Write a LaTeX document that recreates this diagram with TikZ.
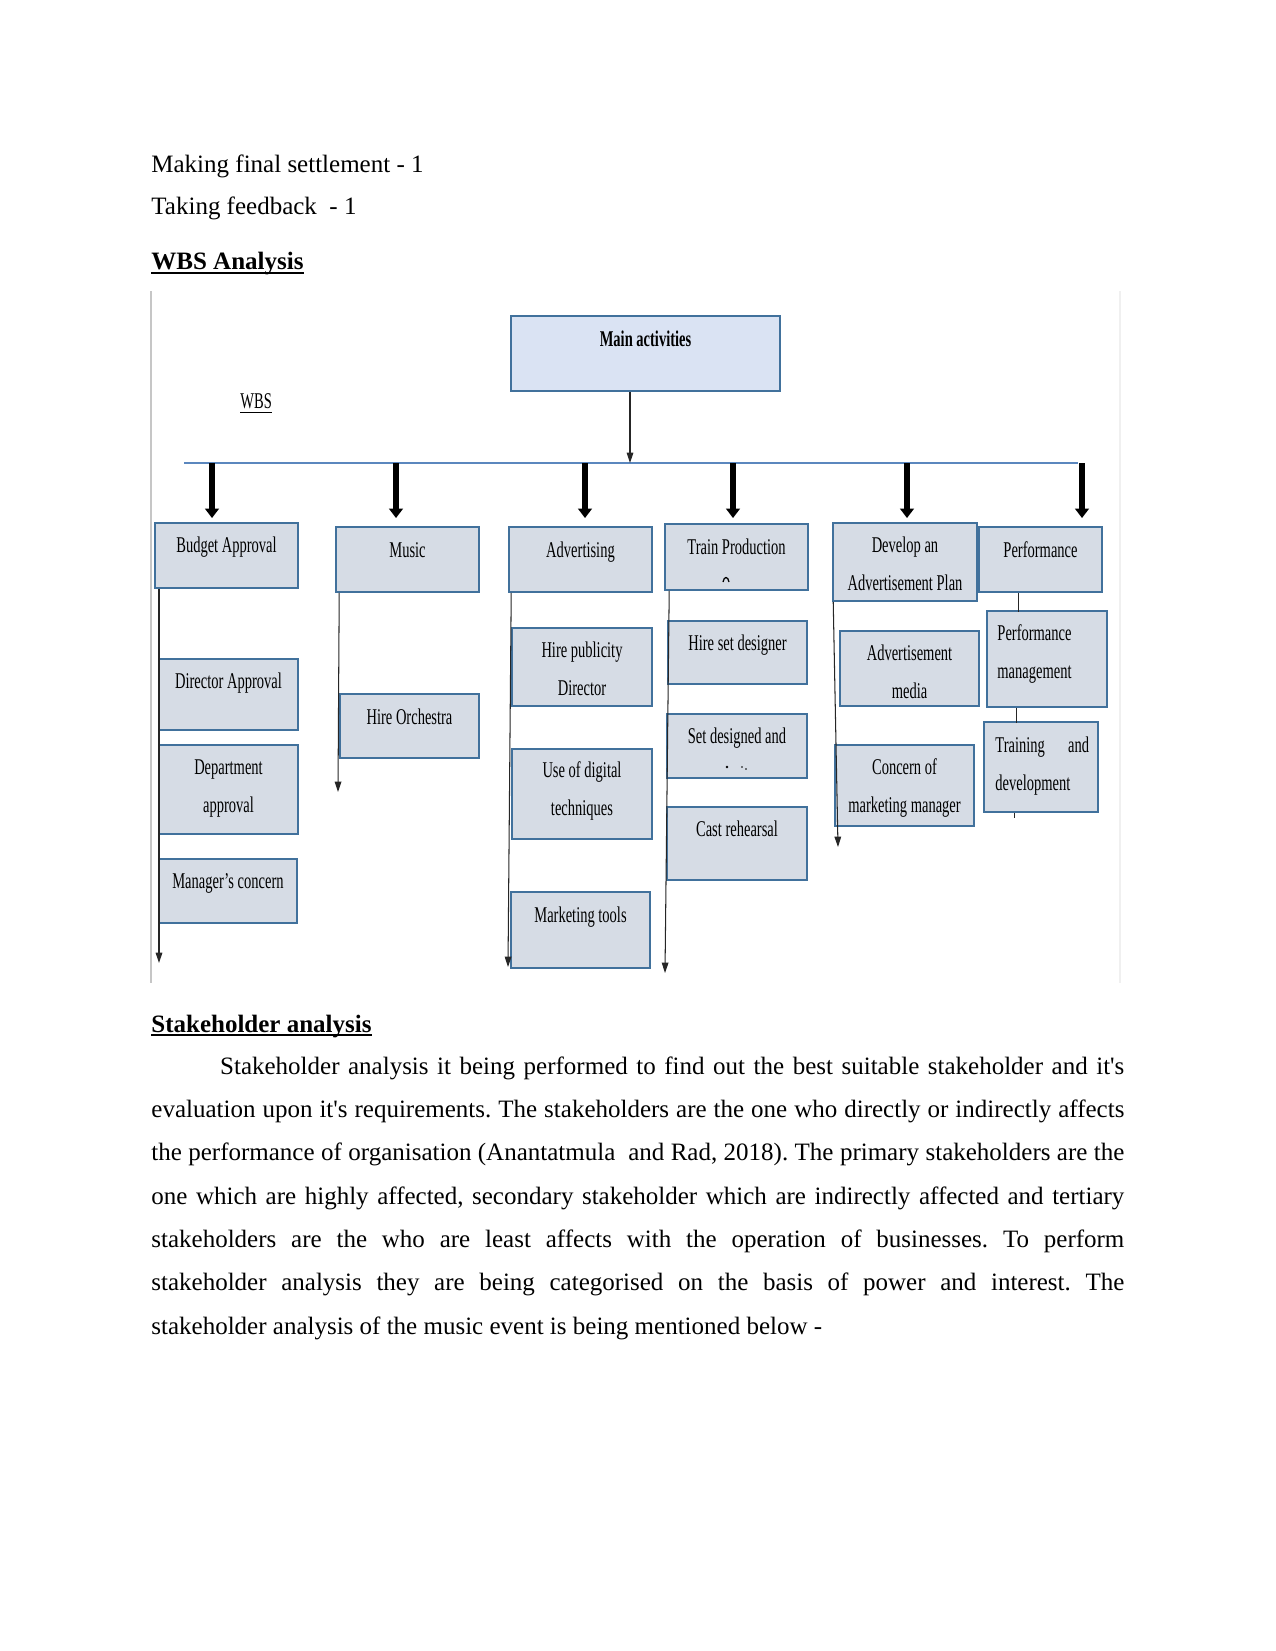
\documentclass[tikz,border=0pt]{standalone}
\usepackage{fontspec}
\setmainfont{Liberation Serif}
\usepackage{graphicx}
\usetikzlibrary{arrows.meta,positioning,fit}

\definecolor{boxfill}{HTML}{D6DCE5}
\definecolor{mainfill}{HTML}{DAE3F3}
\definecolor{boxline}{HTML}{41719C}
\definecolor{barline}{HTML}{5B87BE}

\newcommand{\boxfont}{\fontsize{10.8}{18.7}\selectfont}
\newcommand{\pagefont}{\fontsize{12}{20.8}\selectfont}
\newcommand{\narrow}[1]{\scalebox{0.645}[1]{\begin{tabular}[t]{@{}c@{}}#1\end{tabular}}}
\newcommand{\narrowl}[1]{\scalebox{0.645}[1]{\begin{tabular}[t]{@{}l@{}}#1\end{tabular}}}
\frenchspacing

\begin{document}
\begin{tikzpicture}[
    x=0.48pt, y=-0.48pt,
    box/.style={
        rectangle,
        draw=boxline,
        line width=0.75pt,
        fill=boxfill,
        inner sep=0pt
    },
    lbl/.style={anchor=base, inner sep=0pt, font=\boxfont},
    pagetext/.style={anchor=base west, inner sep=0pt, font=\pagefont},
    arrow/.style={
        -{Triangle[width=3.2pt,length=5pt]},
        line width=0.5pt,
        black!85
    },
    bigarrow/.style={
        -{Triangle[width=6.5pt,length=4.5pt]},
        line width=3pt,
        shorten >=2pt
    },
    link/.style={line width=0.5pt, black!85},
    uline/.style={line width=0.9pt}
]
\useasboundingbox (0,0) rectangle (1275,1651);

% Text above the chart
\node[pagetext] (settle) at (151,173) {Making final settlement - 1};
\node[pagetext] (feedback) at (151,215) {Taking feedback~ - 1};
\node[pagetext, font=\pagefont\bfseries] (wbs-h) at (151,270) {WBS Analysis};
\draw[uline] ([yshift=-1.6pt]wbs-h.base west) -- ([yshift=-1.6pt]wbs-h.base east);

% Frame of the chart
\draw[gray!45, line width=0.5pt] (151,291) -- (151,983);
\draw[gray!12, line width=0.5pt] (1120,291) -- (1120,983);

% Top
\node[box, fill=mainfill, fit={(511,316) (780,391)}] (main) {};
\node[lbl, font=\boxfont\bfseries] (main-t) at (645.5,346) {\narrow{Main activities}};
\node[anchor=base west, inner sep=0pt, font=\boxfont] (wbs-t) at (240,408) {\narrow{WBS}};
\draw[line width=0.5pt] ([yshift=-2pt]wbs-t.base west) -- ([yshift=-2pt]wbs-t.base east);

% Bar
\coordinate (bar-w) at (184,463);
\coordinate (bar-e) at (1078,463);
\coordinate (drop) at (630,463);
\draw[barline, line width=0.7pt] (bar-w) -- (bar-e);
\draw[arrow] (main.south -| drop) -- (drop);

% First row
\node[box, fit={(155,523) (298,588)}] (budget) {};
\node[box, fit={(336,527) (479,592)}] (music) {};
\node[box, fit={(509,527) (652,592)}] (advert) {};
\node[box, fit={(665,524) (808,590)}] (train) {};
\node[box, fit={(833,523) (977,601)}] (develop) {};
\node[box, fit={(979,527) (1102,592)}] (perform) {};

\node[lbl] (budget-t) at (226.5,552) {\narrow{Budget Approval}};
\node[lbl] (music-t) at (407.5,557) {\narrow{Music}};
\node[lbl] (advert-t) at (580.5,557) {\narrow{Advertising}};
\node[lbl] (train-t) at (736.5,554) {\narrow{Train Production}};
\node[lbl] (develop-t) at (905,552) {\narrow{Develop an\\Advertisement Plan}};
\node[lbl] (perform-t) at (1040.5,557) {\narrow{Performance}};
\draw[line width=0.6pt] (723,582) .. controls (724,576) and (728,576) .. (729,582);

% Thick arrows
\coordinate (t1) at (212,463);
\coordinate (t2) at (396,463);
\coordinate (t3) at (585,463);
\coordinate (t4) at (733,463);
\coordinate (t5) at (907,463);
\coordinate (t6) at (1082,463);
\draw[bigarrow] (t1) -- (t1 |- budget.north);
\draw[bigarrow] (t2) -- (t2 |- budget.north);
\draw[bigarrow] (t3) -- (t3 |- budget.north);
\draw[bigarrow] (t4) -- (t4 |- budget.north);
\draw[bigarrow] (t5) -- (t5 |- budget.north);
\draw[bigarrow] (t6) -- (t6 |- budget.north);

% Budget column
\node[box, fit={(159,659) (298,730)}] (director) {};
\node[box, fit={(159,745) (298,834)}] (department) {};
\node[box, fit={(159,859) (297,923)}] (manager) {};
\node[lbl] (director-t) at (228.5,688) {\narrow{Director Approval}};
\node[lbl] (department-t) at (228.5,774) {\narrow{Department\\approval}};
\node[lbl] (manager-t) at (228,888) {\narrow{Manager’s concern}};
\coordinate (budget-end) at (159,963);
\draw[arrow] (budget.south -| budget-end) -- (budget-end);

% Music column
\node[box, fit={(340,694) (479,758)}] (orchestra) {};
\node[lbl] (orchestra-t) at (409.5,724) {\narrow{Hire Orchestra}};
\coordinate (music-end) at (338,792);
\draw[arrow] (music.south west) ++(4,0) -- (music-end);

% Advertising column
\node[box, fit={(512,628) (652,706)}] (publicity) {};
\node[box, fit={(512,749) (652,839)}] (digital) {};
\node[box, fit={(511,892) (650,968)}] (marketing) {};
\node[lbl] (publicity-t) at (582,657) {\narrow{Hire publicity\\Director}};
\node[lbl] (digital-t) at (582,777) {\narrow{Use of digital\\techniques}};
\node[lbl] (marketing-t) at (580.5,922) {\narrow{Marketing tools}};
\coordinate (advert-end) at (508,967);
\draw[arrow] (advert.south west) ++(3,0) -- (advert-end);

% Train column
\node[box, fit={(668,621) (807,684)}] (setdesigner) {};
\node[box, fit={(667,714) (807,778)}] (setdesigned) {};
\node[box, fit={(667,807) (807,880)}] (rehearsal) {};
\node[lbl] (setdesigner-t) at (737.5,650) {\narrow{Hire set designer}};
\node[lbl] (setdesigned-t) at (737,743) {\narrow{Set designed and}};
\node[lbl] (rehearsal-t) at (737,836) {\narrow{Cast rehearsal}};
\fill (727,767) circle (1.3);
\fill (742,767) circle (0.9);
\fill (746,769) circle (0.9);
\coordinate (train-end) at (665,973);
\draw[arrow] (train.south west) ++(5,0) -- (train-end);

% Develop column
\node[box, fit={(840,631) (979,706)}] (admedia) {};
\node[box, fit={(835,745) (974,826)}] (concern) {};
\node[lbl] (admedia-t) at (909.5,660) {\narrow{Advertisement\\media}};
\node[lbl] (concern-t) at (904.5,774) {\narrow{Concern of\\marketing manager}};
\coordinate (develop-end) at (838,847);
\draw[arrow] (develop.south west) ++(1,0) -- (develop-end);

% Performance column
\node[box, fit={(987,611) (1107,707)}] (perfmgmt) {};
\node[box, fit={(984,722) (1098,812)}] (training) {};
\node[lbl, anchor=base west] (perfmgmt-t) at (997,640) {\narrowl{Performance\\management}};
\node[lbl, anchor=base west] (training-t) at (995,752) {\narrowl{\makebox[69.7pt][l]{Training\hfill and}\\development}};
\draw[link] (perform.south west) ++(40,0) -- ++(0,19);
\draw[link] (perfmgmt.south west) ++(30,0) -- ++(0,15);
\draw[link] (training.south west) ++(31,0) -- ++(0,5);

% Text below the chart
\node[pagetext, font=\pagefont\bfseries] (stake-h) at (151,1032) {Stakeholder analysis};
\draw[uline] ([yshift=-1.6pt]stake-h.base west) -- ([yshift=-1.6pt]stake-h.base east);
\node[pagetext, text width=467pt, align=justify] (stake-p) at (151,1074) {\hspace*{33pt}Stakeholder analysis it being performed to find out the best suitable stakeholder and it\textquotesingle s\linebreak
evaluation upon it\textquotesingle s requirements. The stakeholders are the one who directly or indirectly affects\linebreak
the performance of organisation (Anantatmula~ and Rad, 2018). The primary stakeholders are the\linebreak
one which are highly affected, secondary stakeholder which are indirectly affected and tertiary\linebreak
stakeholders are the who are least affects with the operation of businesses. To perform\linebreak
stakeholder analysis they are being categorised on the basis of power and interest. The\linebreak
stakeholder analysis of the music event is being mentioned below -};

\end{tikzpicture}
\end{document}
